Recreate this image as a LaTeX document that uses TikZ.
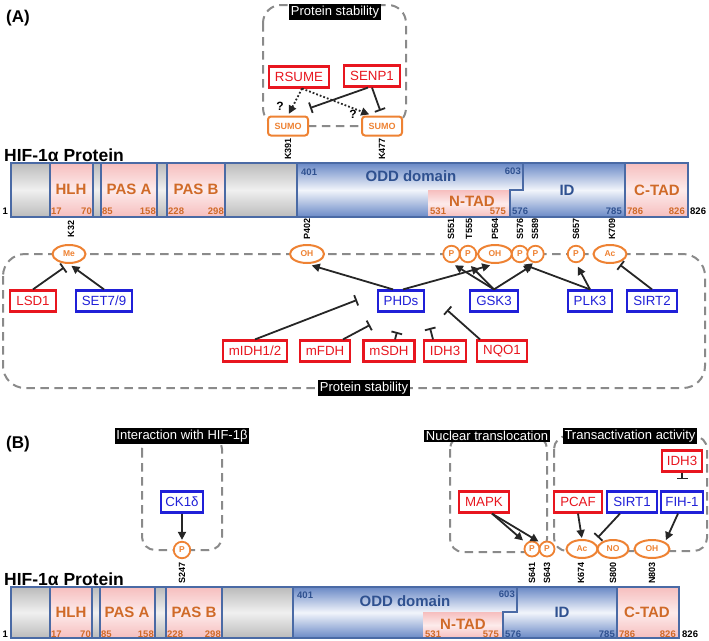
\documentclass[tikz,border=0pt]{standalone}
\usepackage{fontspec}
\setmainfont{Liberation Sans}
\usetikzlibrary{arrows.meta,shapes.geometric,calc}
\newcommand{\myfs}[1]{\fontsize{#1}{#1}\selectfont}
\definecolor{cred}{HTML}{E8161F}
\definecolor{cblue}{HTML}{2020D8}
\definecolor{corange}{HTML}{EE8233}
\definecolor{ctorange}{HTML}{D06A28}
\definecolor{cdblue}{HTML}{2F5190}
\definecolor{cdash}{HTML}{8A8A8A}
\definecolor{cbar}{HTML}{4A6AA5}
\definecolor{carrow}{HTML}{262626}
\definecolor{cgt}{HTML}{BBBBBB}
\definecolor{cgm}{HTML}{F0F0F0}
\definecolor{cpt}{HTML}{F6BEBE}
\definecolor{cpm}{HTML}{FDEBEB}
\definecolor{cbt}{HTML}{6A89C6}
\definecolor{cbm}{HTML}{F2F5FB}
\begin{document}
\begin{tikzpicture}[x=1pt,y=-1pt,
  redbox/.style={draw=cred, text=cred, line width=2.2pt, fill=white, font=\myfs{13.3}, inner xsep=6pt, inner ysep=0pt, minimum height=21pt},
  bluebox/.style={redbox, draw=cblue, text=cblue},
  tag/.style={fill=black, text=white, font=\myfs{13}, inner xsep=1.5pt, inner ysep=1.5pt},
  grp/.style={draw=cdash, dash pattern=on 8.5pt off 5.5pt, line width=2pt, rounded corners=18pt},
  grps/.style={grp, rounded corners=13pt},
  mod/.style={ellipse, draw=corange, line width=2pt, fill=white, text=corange, font=\bfseries\myfs{8.5}, inner sep=0pt, minimum height=18pt},
  pmod/.style={circle, draw=corange, line width=1.8pt, fill=white, text=corange, font=\bfseries\myfs{8.5}, inner sep=0pt, minimum size=16.5pt},
  sumo/.style={rectangle, rounded corners=3pt, draw=corange, line width=2pt, fill=white, text=corange, font=\bfseries\myfs{9}, minimum width=40pt, minimum height=19pt, inner sep=0pt},
  res/.style={rotate=90, font=\bfseries\myfs{9}, text=black, inner sep=0pt},
  arr/.style={draw=carrow, line width=1.8pt, -{Triangle[length=8pt,width=8pt]}},
  inh/.style={draw=carrow, line width=1.8pt, -{Bar[width=11pt,line width=1.8pt]}},
  dotarr/.style={arr, dotted},
  greysh/.style={top color=cgt, bottom color=cgt, middle color=cgm},
  pinksh/.style={top color=cpt, bottom color=cpt, middle color=cpm},
  bluesh/.style={top color=cbt, bottom color=cbt, middle color=cbm},
  barline/.style={draw=cbar, line width=1.3pt},
  dom/.style={font=\bfseries\myfs{15}, text=ctorange, inner sep=0pt},
  domb/.style={dom, text=cdblue},
  num/.style={font=\bfseries\myfs{9.5}, text=ctorange, inner sep=0pt},
  numb/.style={num, text=cdblue},
  numk/.style={num, text=black},
  title/.style={font=\bfseries\myfs{17.5}, inner sep=0pt, anchor=base west},
  qm/.style={font=\bfseries\myfs{12}, inner sep=0pt}
]
\useasboundingbox (0,0) rectangle (709,640);

% ================= PANEL A =================
\node[font=\bfseries\myfs{17}] (lA) at (18,18) {(A)};

% top group
\draw[grp] (263,5) rectangle (406,126);
\node[tag] (tA1) at (335,12) {Protein stability};
\node[redbox] (RSUME) at (299,77) {RSUME};
\node[redbox] (SENP1) at (372,76) {SENP1};
\node[sumo] (SUMO1) at (288,126) {SUMO};
\node[sumo] (SUMO2) at (382,126) {SUMO};
\node[res] (rK391) at (288,149) {K391};
\node[res] (rK477) at (382,149) {K477};
\coordinate (s1) at (310,108);
\draw[dotarr, shorten >=2pt] ([xshift=3pt]RSUME.south) -- (SUMO1.north);
\draw[dotarr, shorten >=3pt] ([xshift=3pt]RSUME.south) -- ([xshift=-10pt]SUMO2.north);
\draw[inh] ([xshift=-4pt]SENP1.south) -- (s1);
\draw[inh, shorten >=5pt] (SENP1.south) -- (SUMO2.north);
\node[qm] (q1) at (280,106) {?};
\node[qm] (q2) at (353,114) {?};

% protein bar A
\node[title] (tA) at (4,161.5) {HIF-1α Protein};
\foreach \a/\b in {11/50, 93/101, 157/167, 225/297} \shade[greysh] (\a,163) rectangle (\b,217);
\foreach \a/\b in {50/93, 101/157, 167/225, 625/688} \shade[pinksh] (\a,163) rectangle (\b,217);
\shade[bluesh] (297,163) rectangle (625,217);
\shade[pinksh] (428,190) rectangle (510,217);
\draw[barline] (11,163) rectangle (688,217);
\foreach \x in {50,93,101,157,167,225,297,625} \draw[barline] (\x,163) -- (\x,217);
\draw[barline] (523,163) -- (523,190) -- (510,190) -- (510,217);
\node[dom] at (71,189) {HLH};
\node[dom] at (129,189) {PAS A};
\node[dom] at (196,189) {PAS B};
\node[domb] at (411,176.5) {ODD domain};
\node[dom] at (472,201) {N-TAD};
\node[domb] at (567,190) {ID};
\node[dom] at (657,190) {C-TAD};
\node[numk, anchor=east] at (8,211) {1};
\node[num, anchor=west] at (51,211) {17};
\node[num, anchor=east] at (92,211) {70};
\node[num, anchor=west] at (102,211) {85};
\node[num, anchor=east] at (156,211) {158};
\node[num, anchor=west] at (168,211) {228};
\node[num, anchor=east] at (224,211) {298};
\node[numb, anchor=west] at (301,172) {401};
\node[numb, anchor=east] at (521,171) {603};
\node[num, anchor=west] at (430,211) {531};
\node[num, anchor=east] at (506,211) {575};
\node[numb, anchor=west] at (512,211) {576};
\node[numb, anchor=east] at (622,211) {785};
\node[num, anchor=west] at (627,211) {786};
\node[num, anchor=east] at (685,211) {826};
\node[numk, anchor=west] at (690,211) {826};

% bottom group A
\draw[grp, rounded corners=22pt] (3,254) rectangle (705,388);
\node[tag] (tA2) at (364,388) {Protein stability};

\node[res] at (71,229) {K32};
\node[res] at (307,229) {P402};
\node[res] at (451,229) {S551};
\node[res] at (469,229) {T555};
\node[res] at (495,229) {P564};
\node[res] at (520,229) {S576};
\node[res] at (535,229) {S589};
\node[res] at (576,229) {S657};
\node[res] at (612,229) {K709};

\node[mod, minimum width=33pt] (Me) at (69,254) {Me};
\node[mod, minimum width=34pt] (OHa) at (307,254) {OH};
\node[pmod] (P551) at (451.5,254) {P};
\node[pmod] (P555) at (468,254) {P};
\node[mod, minimum width=34pt] (OHb) at (495,254) {OH};
\node[pmod] (P576) at (520,254) {P};
\node[pmod] (P589) at (535.5,254) {P};
\node[pmod] (P657) at (576,254) {P};
\node[mod, minimum width=33pt] (Ac709) at (610,254) {Ac};

\node[redbox] (LSD1) at (33,301) {LSD1};
\node[bluebox] (SET79) at (104,301) {SET7/9};
\node[bluebox] (PHDs) at (401,301) {PHDs};
\node[bluebox] (GSK3) at (494,301) {GSK3};
\node[bluebox] (PLK3) at (590,301) {PLK3};
\node[bluebox] (SIRT2) at (652,301) {SIRT2};
\node[redbox] (mIDH) at (255,351) {mIDH1/2};
\node[redbox] (mFDH) at (325,351) {mFDH};
\node[redbox] (mSDH) at (389,351) {mSDH};
\node[redbox] (IDH3) at (445,351) {IDH3};
\node[redbox] (NQO1) at (502,351) {NQO1};

\draw[inh, shorten >=6pt] (LSD1.north) -- (Me.south);
\draw[arr, shorten >=3pt] (SET79.north) -- (Me.south);
\draw[arr, shorten >=5pt] ([xshift=-8pt]PHDs.north) -- (OHa.south);
\draw[arr, shorten >=5pt] ([xshift=2pt]PHDs.north) -- (OHb.south);
\draw[arr, shorten >=4pt] (GSK3.north) -- (P551.south);
\draw[arr, shorten >=4pt] (GSK3.north) -- (P555.south);
\draw[arr, shorten >=4pt] (GSK3.north) -- (P589.south);
\draw[arr, shorten >=4pt] (PLK3.north) -- (P576.south);
\draw[arr, shorten >=4pt] (PLK3.north) -- (P657.south);
\draw[inh, shorten >=3pt] (SIRT2.north) -- (Ac709.-50);
\coordinate (i1) at (357,300);
\coordinate (i2) at (370,325);
\coordinate (i3) at (397,332);
\coordinate (i4) at (430,328);
\coordinate (i5) at (447,310);
\draw[inh] (mIDH.north) -- (i1);
\draw[inh] ([xshift=18pt]mFDH.north) -- (i2);
\draw[inh] ([xshift=6pt]mSDH.north) -- (i3);
\draw[inh] ([xshift=-12pt]IDH3.north) -- (i4);
\draw[inh] ([xshift=-22pt]NQO1.north) -- (i5);

% ================= PANEL B =================
\node[font=\bfseries\myfs{17}] (lB) at (18,444) {(B)};

\draw[grps] (142,436) rectangle (222,550);
\draw[grps] (450,436) rectangle (547,552);
\draw[grps] (554,436) rectangle (707,551);
\node[tag] (tB1) at (182,436) {Interaction with HIF-1β};
\node[tag] (tB2) at (487,436) {Nuclear translocation};
\node[tag] (tB3) at (630,436) {Transactivation activity};

\node[bluebox, inner xsep=4pt] (CK1d) at (182,502) {CK1δ};
\node[redbox] (MAPK) at (484,502) {MAPK};
\node[redbox] (PCAF) at (578,502) {PCAF};
\node[bluebox] (SIRT1) at (632,502) {SIRT1};
\node[bluebox, inner xsep=4.5pt] (FIH1) at (682,502) {FIH-1};
\node[redbox, inner xsep=4.5pt] (IDH3b) at (682,461) {IDH3};

\node[pmod] (P247) at (182,550) {P};
\node[pmod, minimum size=15pt] (P641) at (532,549) {P};
\node[pmod, minimum size=15pt] (P643) at (547,549) {P};
\node[mod, minimum width=31pt] (Ac674) at (582,549) {Ac};
\node[mod, minimum width=31pt] (NO800) at (613,549) {NO};
\node[mod, minimum width=35pt] (OH803) at (652,549) {OH};

\node[res] at (182,573) {S247};
\node[res] at (532,573) {S641};
\node[res] at (547,573) {S643};
\node[res] at (581,573) {K674};
\node[res] at (613,573) {S800};
\node[res] at (652,573) {N803};

\draw[arr, shorten >=1pt] (CK1d.south) -- (P247.north);
\draw[arr, shorten >=4pt] ([xshift=8pt]MAPK.south) -- (P641.north west);
\draw[arr, shorten >=3pt] ([xshift=8pt]MAPK.south) -- (P643.north west);
\draw[arr, shorten >=1pt] (PCAF.south) -- (Ac674.north);
\draw[inh, shorten >=6pt] ([xshift=-12pt]SIRT1.south) -- (Ac674.north east);
\draw[arr, shorten >=2pt] ([xshift=-4pt]FIH1.south) -- (OH803.north east);
\draw[inh] (IDH3b.south) -- ([yshift=11pt]FIH1.north);

% protein bar B
\node[title] (tB) at (4,585) {HIF-1α Protein};
\foreach \a/\b in {11/50, 92/100, 155/166, 222/293} \shade[greysh] (\a,587) rectangle (\b,638);
\foreach \a/\b in {50/92, 100/155, 166/222, 617/679} \shade[pinksh] (\a,587) rectangle (\b,638);
\shade[bluesh] (293,587) rectangle (617,638);
\shade[pinksh] (423,612) rectangle (503,638);
\draw[barline] (11,587) rectangle (679,638);
\foreach \x in {50,92,100,155,166,222,293,617} \draw[barline] (\x,587) -- (\x,638);
\draw[barline] (517,587) -- (517,612) -- (503,612) -- (503,638);
\node[dom] at (71,612.5) {HLH};
\node[dom] at (127,612.5) {PAS A};
\node[dom] at (194,612.5) {PAS B};
\node[domb] at (405,601) {ODD domain};
\node[dom] at (463,624) {N-TAD};
\node[domb] at (562,612.5) {ID};
\node[dom] at (647,612.5) {C-TAD};
\node[numk, anchor=east] at (8,634) {1};
\node[num, anchor=west] at (51,634) {17};
\node[num, anchor=east] at (91,634) {70};
\node[num, anchor=west] at (101,634) {85};
\node[num, anchor=east] at (154,634) {158};
\node[num, anchor=west] at (167,634) {228};
\node[num, anchor=east] at (221,634) {298};
\node[numb, anchor=west] at (297,595) {401};
\node[numb, anchor=east] at (515,594) {603};
\node[num, anchor=west] at (425,634) {531};
\node[num, anchor=east] at (499,634) {575};
\node[numb, anchor=west] at (505,634) {576};
\node[numb, anchor=east] at (615,634) {785};
\node[num, anchor=west] at (619,634) {786};
\node[num, anchor=east] at (676,634) {826};
\node[numk, anchor=west] at (682,634) {826};
\end{tikzpicture}
\end{document}
